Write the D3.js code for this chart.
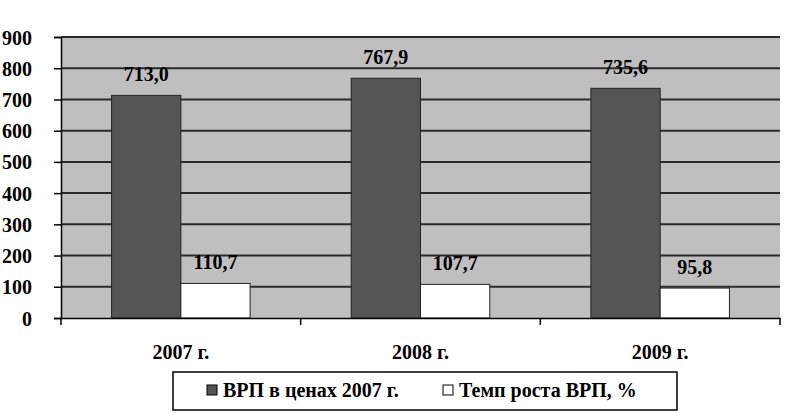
<!DOCTYPE html>
<html><head><meta charset="utf-8">
<script src="https://cdn.jsdelivr.net/npm/d3@7/dist/d3.min.js"></script>
<style>body{margin:0;background:#fff}svg{display:block}
svg text{font-family:"Times New Roman","Liberation Serif",Tinos,"DejaVu Serif","Noto Serif",serif;font-weight:bold;font-size:20px;fill:#000}
</style>
</head><body>
<svg id="c" width="800" height="414"></svg>
<script>
const categories = ["2007 г.", "2008 г.", "2009 г."];
const seriesNames = ["ВРП в ценах 2007 г.", "Темп роста ВРП, %"];
const grp = [713.0, 767.9, 735.6];
const growth = [110.7, 107.7, 95.8];
const yTicks = [0,100,200,300,400,500,600,700,800,900];
const fmt = v => v.toFixed(1).replace(".", ",");

const svg = d3.select("#c");
const L = 61, R = 780, T = 37, B = 318;
const y = d3.scaleLinear().domain([0,900]).range([B,T]);
const x = d3.scaleBand().domain(categories).range([L,R]).padding(0);
const inner = d3.scaleBand().domain([0,1]).range([0, x.bandwidth()]).paddingOuter(0.73).paddingInner(0);

svg.append("rect").attr("x",L).attr("y",T).attr("width",R-L).attr("height",B-T).attr("fill","#bfbfbf");
svg.append("g").selectAll("line").data(yTicks.slice(1)).join("line")
  .attr("x1",L).attr("x2",R).attr("y1",d=>y(d)).attr("y2",d=>y(d))
  .attr("stroke","#2a2a2a").attr("stroke-width",2);

const colors = ["#555555", "#ffffff"];
const data = categories.map((c,i)=>[{c,s:0,v:grp[i]},{c,s:1,v:growth[i]}]).flat();
svg.append("g").selectAll("rect").data(data).join("rect")
  .attr("x",d=>x(d.c)+inner(d.s)).attr("width",inner.bandwidth())
  .attr("y",d=>y(d.v)).attr("height",d=>B-y(d.v))
  .attr("fill",d=>colors[d.s]).attr("stroke","#222").attr("stroke-width",1);

svg.append("g").selectAll("text").data(data).join("text")
  .attr("x",d=>x(d.c)+inner(d.s)+inner.bandwidth()/2).attr("y",d=>y(d.v)-14)
  .attr("text-anchor","middle").text(d=>fmt(d.v));

const ya = svg.append("g").attr("transform",`translate(${L},0)`)
  .call(d3.axisLeft(y).tickValues(yTicks).tickSize(7).tickPadding(22).tickFormat(d3.format("d")));
ya.attr("font-family",null).attr("font-size",null);
ya.select(".domain").attr("stroke","#000").attr("stroke-width",1.5);
ya.selectAll(".tick line").attr("stroke","#000").attr("stroke-width",1.5);
ya.selectAll("text").attr("fill","#000").attr("dy","0.35em");

const xa = svg.append("g").attr("transform",`translate(0,${B})`)
  .call(d3.axisBottom(x).tickSize(0).tickPadding(27));
xa.attr("font-family",null).attr("font-size",null);
xa.select(".domain").attr("stroke","#000").attr("stroke-width",1.5);
xa.selectAll("text").attr("fill","#000");
svg.append("g").selectAll("line").data([...categories.map(c=>x(c)), R]).join("line")
  .attr("x1",d=>d).attr("x2",d=>d).attr("y1",B).attr("y2",B+7).attr("stroke","#000").attr("stroke-width",1.5);

// legend
const lg = svg.append("g");
lg.append("rect").attr("x",173).attr("y",372).attr("width",504).attr("height",38).attr("fill","#fff").attr("stroke","#000").attr("stroke-width",1.5);
const lx = [207, 443];
seriesNames.forEach((n,i)=>{
  lg.append("rect").attr("x",lx[i]).attr("y",385).attr("width",10).attr("height",10).attr("fill",colors[i]).attr("stroke","#000");
  lg.append("text").attr("x",lx[i]+16).attr("y",397).text(n);
});
</script>
</body></html>
